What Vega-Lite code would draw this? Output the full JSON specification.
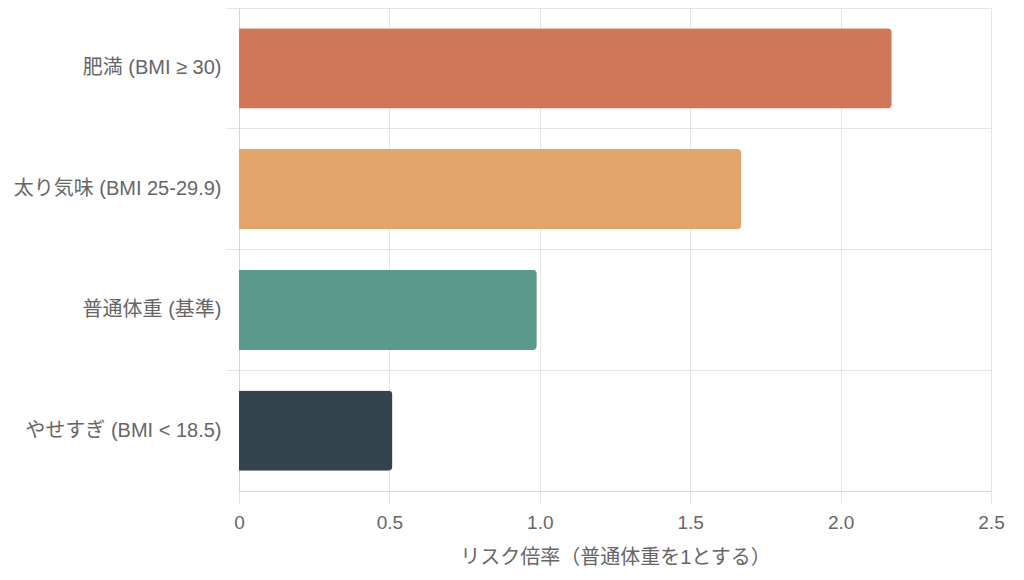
{
  "$schema": "https://vega.github.io/schema/vega-lite/v6.json",
  "width": 752,
  "height": 483,
  "autosize": {"type": "none"},
  "padding": {"left": 239, "top": 8, "right": 33, "bottom": 89},
  "background": "white",
  "data": {
    "values": [
      {"category": "肥満 (BMI ≥ 30)", "risk": 2.17},
      {"category": "太り気味 (BMI 25-29.9)", "risk": 1.67},
      {"category": "普通体重 (基準)", "risk": 0.99},
      {"category": "やせすぎ (BMI < 18.5)", "risk": 0.51}
    ]
  },
  "mark": {"type": "bar", "cornerRadiusEnd": 4},
  "encoding": {
    "y": {
      "field": "category",
      "type": "nominal",
      "sort": null,
      "scale": {"paddingInner": 0.335, "paddingOuter": 0.1675},
      "axis": {
        "title": null,
        "bandPosition": -0.2516,
        "grid": true,
        "gridColor": "#e5e5e5",
        "tickColor": "#e5e5e5",
        "tickSize": 13,
        "domainColor": "#d6d6d6",
        "labelFontSize": 20,
        "labelColor": "#666666",
        "labelPadding": 5,
        "labelLimit": 300,
        "labelFont": "'Liberation Sans', 'Noto Sans CJK JP', sans-serif"
      }
    },
    "x": {
      "field": "risk",
      "type": "quantitative",
      "scale": {"domain": [0, 2.5], "nice": false},
      "axis": {
        "values": [0, 0.5, 1, 1.5, 2, 2.5],
        "labelExpr": "datum.value == 0 ? '0' : format(datum.value, '.1f')",
        "title": "リスク倍率（普通体重を1とする）",
        "grid": true,
        "gridColor": "#e5e5e5",
        "tickColor": "#e5e5e5",
        "tickSize": 13,
        "domainColor": "#d6d6d6",
        "labelFontSize": 19,
        "labelColor": "#666666",
        "labelPadding": 9,
        "labelFont": "'Liberation Sans', 'Noto Sans CJK JP', sans-serif",
        "labelFlush": false,
        "titleFontSize": 20,
        "titleFontWeight": "normal",
        "titleColor": "#666666",
        "titleFont": "'Liberation Sans', 'Noto Sans CJK JP', sans-serif",
        "titlePadding": 15
      }
    },
    "color": {
      "field": "category",
      "type": "nominal",
      "scale": {
        "domain": ["肥満 (BMI ≥ 30)", "太り気味 (BMI 25-29.9)", "普通体重 (基準)", "やせすぎ (BMI < 18.5)"],
        "range": ["#D07759", "#E2A66D", "#5A998C", "#33444F"]
      },
      "legend": null
    }
  },
  "config": {"view": {"stroke": null}}
}
